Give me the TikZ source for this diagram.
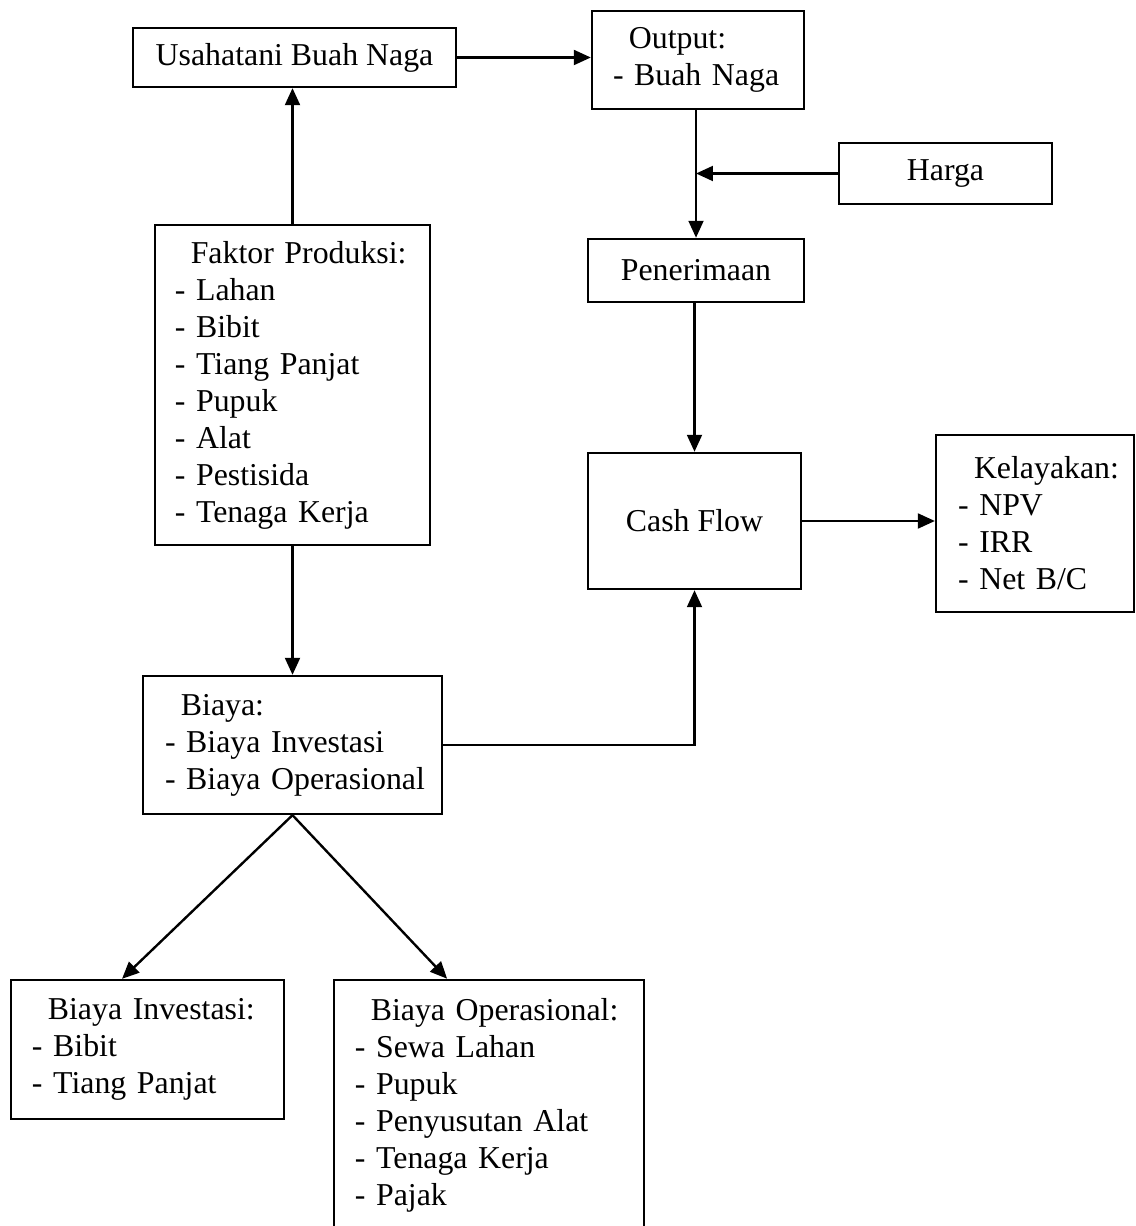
\documentclass[tikz,border=0pt]{standalone}
\usepackage{fontspec}
\setmainfont{Liberation Serif}
\usetikzlibrary{arrows.meta,positioning,calc}

\newcommand{\hd}[1]{\mbox{\hspace*{6pt}#1}}   % indented first line of a list box

\tikzset{
  box/.style={draw, line width=0.9pt, inner sep=0pt, font=\fontsize{12pt}{13.95pt}\selectfont},
  listbox/.style={box, align=left},
  flow/.style={line width=0.9pt, -{Triangle[length=6.4pt,width=5.6pt]}},
}

\begin{document}
\begin{tikzpicture}[x=0.377pt, y=-0.377pt]
  \useasboundingbox (0,0) rectangle (1135,1226);

  \node[box, minimum width=121.8pt, minimum height=22.2pt] (usaha) at (294.5,57.5) {Usahatani Buah Naga};   % Farm box
  \node[listbox, text width=64.1pt, inner xsep=7.9pt, minimum height=36.9pt] (output) at (698,60)
       {\hd{Output:}\\\mbox{- Buah Naga}};                                                              % Output box
  \node[box, minimum width=80.3pt, minimum height=23pt] (harga) at (945.5,173.5) {Harga};                % Price box
  \node[box, minimum width=81.4pt, minimum height=23.8pt] (terima) at (696,270.5) {Penerimaan};          % Revenue box
  \node[listbox, text width=88.7pt, inner xsep=7.5pt, minimum height=120.6pt] (faktor) at (292.5,385)
       {\hd{Faktor Produksi:}\\- Lahan\\- Bibit\\- Tiang Panjat\\- Pupuk\\- Alat\\- Pestisida\\- Tenaga Kerja}; % Inputs box
  \node[box, minimum width=80.3pt, minimum height=51.3pt] (cash) at (694.5,521) {Cash Flow};            % Cash flow box
  \node[listbox, text width=58pt, inner xsep=8.3pt, minimum height=66.7pt] (layak) at (1035,523.5)
       {\hd{Kelayakan:}\\- NPV\\- IRR\\- Net B/C};                                                     % Feasibility box
  \node[listbox, text width=96.1pt, inner xsep=8.3pt, minimum height=52pt] (biaya) at (292.5,745)
       {\hd{Biaya:}\\\mbox{- Biaya Investasi}\\\mbox{- Biaya Operasional}};                             % Cost box
  \node[listbox, text width=87.1pt, inner xsep=7.9pt, minimum height=52.4pt] (invest) at (147.5,1049.5)
       {\hd{Biaya Investasi:}\\- Bibit\\- Tiang Panjat};                                               % Investment box
  \node[listbox, text width=101.1pt, inner xsep=7.9pt, minimum height=94.3pt] (operas) at (489,1105)
       {\hd{Biaya Operasional:}\\- Sewa Lahan\\- Pupuk\\- Penyusutan Alat\\- Tenaga Kerja\\- Pajak};    % Operating box

  \coordinate (hargajoin) at (harga.west -| terima.north);

  \draw[flow] (usaha.east) -- (usaha.east -| output.west);          % Farm to output
  \draw[flow] (faktor.north) -- (faktor.north |- usaha.south);      % Inputs to farm
  \draw[flow] (terima.north |- output.south) -- (terima.north);     % Output to revenue
  \draw[flow] (harga.west) -- (hargajoin);                          % Price joins
  \draw[flow] (cash.north |- terima.south) -- (cash.north);         % Revenue to cash flow
  \draw[flow] (cash.east) -- (cash.east -| layak.west);             % Cash flow to feasibility
  \draw[flow] (faktor.south) -- (faktor.south |- biaya.north);      % Inputs to cost
  \draw[flow] (biaya.east) -| (cash.south);                         % Cost to cash flow
  \draw[flow] (biaya.south) -- ([xshift=-9.6pt]invest.north);       % Cost to investment
  \draw[flow] (biaya.south) -- ([xshift=-15.8pt]operas.north);      % Cost to operating
\end{tikzpicture}
\end{document}
